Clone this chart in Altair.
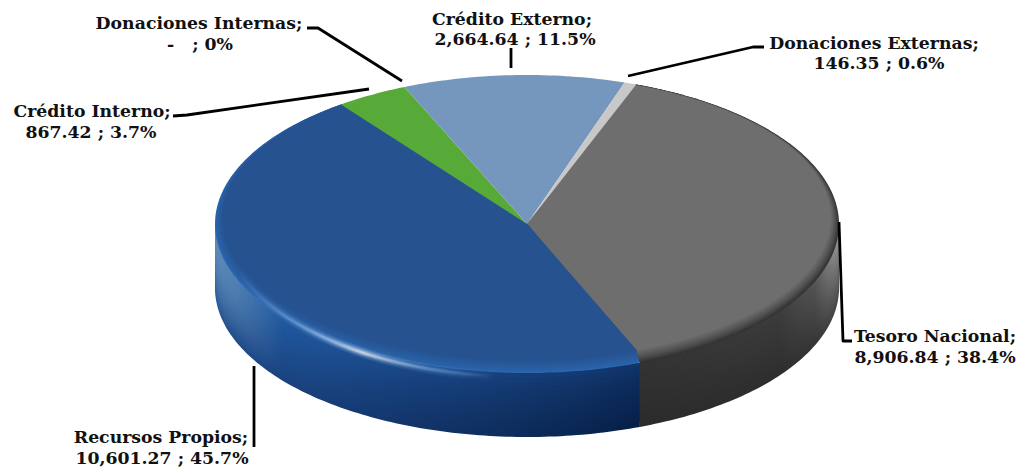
import math
import altair as alt
import pandas as pd

# ---- chart values ----
categories = ["Tesoro Nacional", "Recursos Propios", "Crédito Interno",
              "Donaciones Internas", "Crédito Externo", "Donaciones Externas"]
values = [8906.84, 10601.27, 867.42, 0.0, 2664.64, 146.35]
value_labels = ["8,906.84", "10,601.27", "867.42", "-\u00a0\u00a0", "2,664.64", "146.35"]
percent_labels = ["38.4%", "45.7%", "3.7%", "0%", "11.5%", "0.6%"]

# ---- layout (page pixels) ----
W, H = 1009, 460
CX, CY, RX, RY, DEPTH = 527.0, 224.0, 312.0, 149.0, 64.0
START = 20.5
label_pos = {  # centre x, baseline of line 1, baseline of line 2, centre x line 2
    "Tesoro Nacional": (935, 342, 363, 935),
    "Recursos Propios": (161, 443, 464, 162),
    "Crédito Interno": (92, 117, 138, 91),
    "Donaciones Internas": (199, 29, 50, 200),
    "Crédito Externo": (512, 25, 45, 515),
    "Donaciones Externas": (874, 49, 69, 879),
}
leaders = {
    "Tesoro Nacional": [(839, 222), (843, 341), (852, 341)],
    "Recursos Propios": [(254, 366), (254, 447)],
    "Crédito Interno": [(173, 116), (187, 115), (369, 89)],
    "Donaciones Internas": [(307, 28), (318, 28), (402, 81)],
    "Crédito Externo": [(511, 48), (511, 68)],
    "Donaciones Externas": [(628, 76), (753, 47), (764, 47)],
}

xs = alt.X("x:Q", scale=alt.Scale(domain=[8, 8 + W], nice=False, zero=False), axis=None)
ys = alt.Y("y:Q", scale=alt.Scale(domain=[8, 8 + H], reverse=True, nice=False, zero=False), axis=None)

def pt(t, rx=RX, ry=RY, cx=CX, cy=CY):
    r = math.radians(t)
    return cx + rx * math.sin(r), cy - ry * math.cos(r)

def arc(t0, t1, **kw):
    n = max(2, int(abs(t1 - t0)) + 1)
    return [pt(t0 + (t1 - t0) * i / (n - 1), **kw) for i in range(n)]

def poly(points, fill, opacity=1.0):
    df = pd.DataFrame([{"x": p[0], "y": p[1], "i": i} for i, p in enumerate(points)])
    return alt.Chart(df).mark_line(fill=fill, strokeWidth=0, opacity=opacity, clip=False).encode(
        x=xs, y=ys, order=alt.Order("i:Q"))

def stroke(points, color, width, opacity=1.0, cap="round"):
    df = pd.DataFrame([{"x": p[0], "y": p[1], "i": i} for i, p in enumerate(points)])
    return alt.Chart(df).mark_line(stroke=color, strokeWidth=width, opacity=opacity, strokeCap=cap,
                                   strokeJoin="round").encode(x=xs, y=ys, order=alt.Order("i:Q"))

def hgrad(stops):
    return {"gradient": "linear", "x1": 0, "y1": 0, "x2": 1, "y2": 0,
            "stops": [{"offset": o, "color": c} for o, c in stops]}

def hx(c):
    return [int(c[i:i + 2], 16) for i in (1, 3, 5)]

def mix(a, b, f):
    ca, cb = hx(a), hx(b)
    return "#%02x%02x%02x" % tuple(round(ca[i] + (cb[i] - ca[i]) * f) for i in range(3))

# wedge angles from the values
total = sum(values)
angles = {}
a = START
for c, v in zip(categories, values):
    angles[c] = (a, a + v / total * 360)
    a += v / total * 360

t_tes = angles["Tesoro Nacional"]

def side(t0, t1, depth):
    return arc(t0, t1) + arc(t1, t0, cy=CY + depth)

layers = []

# side wall: painted deepest first, each coat reaching less far down
N = 14
for k in range(N, 0, -1):
    f = k / N  # 1 = bottom edge
    stops = [
        (0.0, mix("#5f8ab8", "#2a5a96", f ** 2)),
        (0.05, mix("#4f7fb2", "#214d8a", f ** 2)),
        (0.16, mix("#215aa2", "#1a4380", f)),
        (0.45, mix("#1c4d90", "#12356a", f ** 0.7)),
        (0.75, mix("#174280", "#0c2a58", f ** 0.6)),
        (1.0, mix("#133a72", "#071f48", f ** 0.6)),
    ]
    layers.append(poly(side(t_tes[1], 270, DEPTH * f), hgrad(stops)))
for k in range(N, 0, -1):
    f = k / N
    stops = [
        (0.0, mix("#333333", "#2b2b2b", f)),
        (0.70, mix("#3c3c3c", "#2e2e2e", f)),
        (0.88, mix("#565656", "#363636", f)),
        (1.0, mix("#9a9a9a", "#4a4a4a", f)),
    ]
    layers.append(poly(side(90, t_tes[1], DEPTH * f), hgrad(stops)))

# top surface: soft bevel built from nested wedges, wide at the front, thin at the back
M = 9
bevel = {
    "Tesoro Nacional": ("#333333", "#6e6e6e"),
    "Recursos Propios": ("#2a66ae", "#265290"),
}
for c, (outer, inner) in bevel.items():
    t0, t1 = angles[c]
    for k in range(M):
        f = k / (M - 1)
        dx = 8 * f
        far, near = 1.0 * f, 13.0 * f
        pts = [(CX, CY)] + arc(t0, t1, rx=RX - dx, ry=RY - (far + near) / 2,
                               cy=CY + (far - near) / 2) + [(CX, CY)]
        layers.append(poly(pts, mix(outer, inner, f ** 0.8)))
for c, col in [("Crédito Interno", "#58aa38"), ("Crédito Externo", "#7597bd"),
               ("Donaciones Externas", "#c8c8c8")]:
    t0, t1 = angles[c]
    layers.append(poly([(CX, CY)] + arc(t0, t1) + [(CX, CY)], col))

# highlight on the front rim of the blue slice, fading out at both ends
hl = arc(186, 252, rx=303, ry=153)
grad = hgrad([(0, "rgba(120,170,225,0)"), (0.22, "rgba(120,170,225,0.7)"), (0.48, "#f0f8ff"),
              (0.74, "rgba(120,170,225,0.7)"), (1, "rgba(120,170,225,0)")])
for w, op in [(10, 0.12), (7, 0.2), (4.5, 0.3), (2.5, 0.5)]:
    layers.append(stroke(hl, grad, w, op))

# leader lines
for c, pts in leaders.items():
    layers.append(stroke(pts, "#000000", 2.8, cap="butt"))

# labels
rows = []
for c, vl, pl in zip(categories, value_labels, percent_labels):
    x1, y1, y2, x2 = label_pos[c]
    rows.append({"x": x1, "y": y1, "t": c + ";"})
    rows.append({"x": x2, "y": y2, "t": f"{vl} ; {pl}"})
text = alt.Chart(pd.DataFrame(rows)).mark_text(
    font="DejaVu Serif", fontWeight="bold", fontSize=17.3, color="#111111",
    align="center", baseline="alphabetic").encode(x=xs, y=ys, text="t:N")
layers.append(text)

chart = alt.layer(*layers).properties(
    width=W, height=H, padding=0, autosize=alt.AutoSizeParams(type="none")
).configure_view(stroke=None)

chart.save("out.html", embed_options={"renderer": "svg", "actions": False})
